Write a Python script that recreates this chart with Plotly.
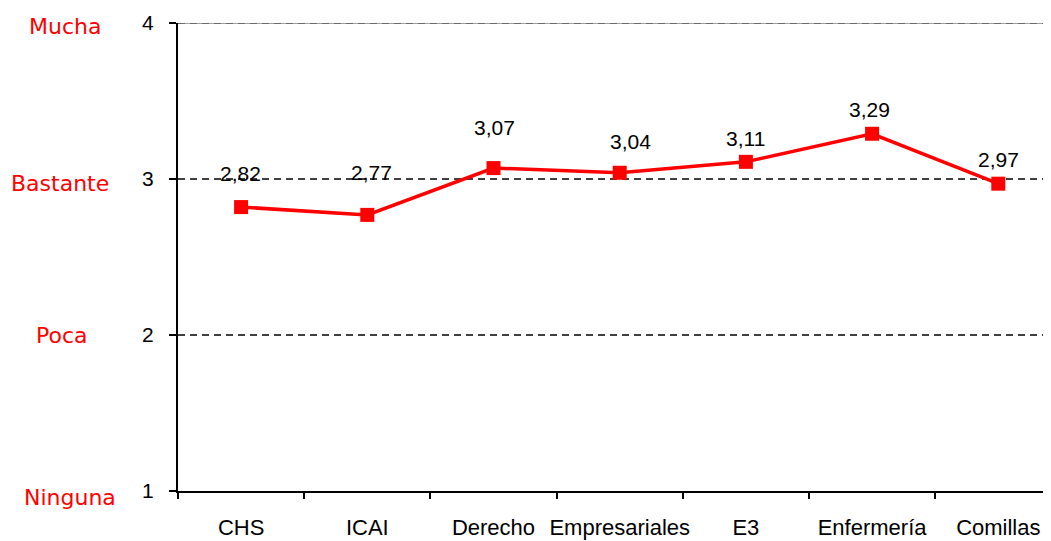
import plotly.graph_objects as go

categories = ["CHS", "ICAI", "Derecho", "Empresariales", "E3", "Enfermería", "Comillas"]
values = [2.82, 2.77, 3.07, 3.04, 3.11, 3.29, 2.97]
value_labels = ["2,82", "2,77", "3,07", "3,04", "3,11", "3,29", "2,97"]
y_ticks = [1, 2, 3, 4]
level_names = ["Ninguna", "Poca", "Bastante", "Mucha"]

# label placement (style)
label_yshift = [34, 42, 41, 31, 23, 24, 24]
label_xshift = [-1, 4, 1, 11, 0, -3, 0]
level_xcenter = [70, 62, 60, 65]  # pixels from page left
level_yshift = [-6, 0, -4, -3]

PAGE_OFF = 8  # body margin of the html page
L, T, B = 178 - PAGE_OFF, 23 - PAGE_OFF, 50
W, H = 1051 - PAGE_OFF, 541 - PAGE_OFF
RED = "#ff0000"

fig = go.Figure()
fig.add_trace(go.Scatter(
    x=categories, y=values, mode="lines+markers",
    line=dict(color=RED, width=3.5),
    marker=dict(symbol="square", size=14, color=RED),
    hoverinfo="skip", showlegend=False, cliponaxis=False,
))

for i, (c, v, t) in enumerate(zip(categories, values, value_labels)):
    fig.add_annotation(x=c, y=v, text=t, showarrow=False, xref="x", yref="y",
                       yshift=label_yshift[i], xshift=label_xshift[i],
                       font=dict(family="Liberation Sans, Arial", size=21, color="#000"))

for yv, name, xc, ys in zip(y_ticks, level_names, level_xcenter, level_yshift):
    fig.add_annotation(x=0, y=yv, xref="paper", yref="y", text=name, showarrow=False,
                       xanchor="center", xshift=xc - 178, yshift=ys,
                       font=dict(family="DejaVu Sans, Verdana", size=22, color=RED))

# gridlines
for yv in y_ticks[1:3]:
    fig.add_shape(type="line", xref="paper", yref="y", x0=0, x1=1, y0=yv, y1=yv,
                  line=dict(color="#000", width=1.6, dash="7px,5px"), layer="below")
fig.add_shape(type="line", xref="paper", yref="y", x0=0, x1=1, y0=4, y1=4,
              line=dict(color="#a0a0a0", width=2), layer="below")
fig.add_shape(type="line", xref="paper", yref="y", x0=0, x1=1, y0=4, y1=4,
              line=dict(color="#6a6a6a", width=2, dash="7px,5px"), layer="below")

fig.update_layout(
    width=W, height=H,
    margin=dict(l=L, r=0, t=T, b=B),
    paper_bgcolor="white", plot_bgcolor="white",
    xaxis=dict(
        type="category", range=[-0.5, -0.5 + (W - L) / 126.2],
        showline=True, linecolor="#000", linewidth=2,
        ticks="outside", tickson="boundaries", ticklen=6, tickwidth=2, tickcolor="#000",
        showgrid=False, zeroline=False, tickangle=0, automargin=False,
        tickfont=dict(family="Liberation Sans, Arial", size=22, color="#000"),
        ticklabelstandoff=16,
    ),
    yaxis=dict(
        range=[1, 4], tickvals=y_ticks, ticktext=[str(v) for v in y_ticks],
        showline=True, linecolor="#000", linewidth=2,
        ticks="outside", ticklen=7, tickwidth=2, tickcolor="#000",
        showgrid=False, zeroline=False, automargin=False,
        tickfont=dict(family="Liberation Sans, Arial", size=21, color="#000"),
        ticklabelstandoff=11,
    ),
)

fig.write_html("out.html")
